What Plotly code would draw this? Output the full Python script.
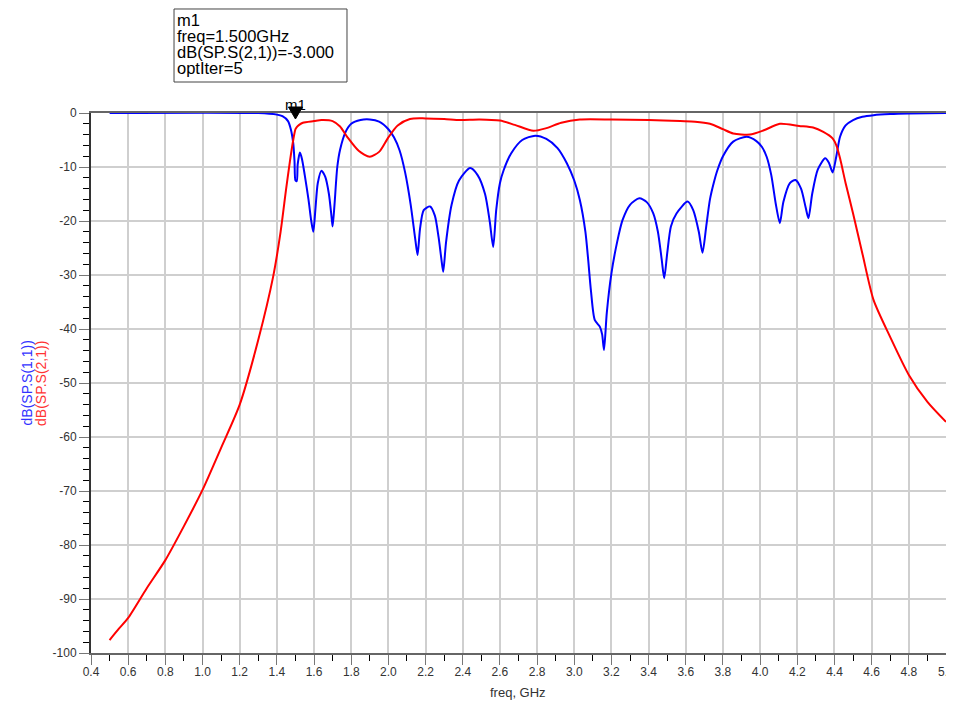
import plotly.graph_objects as go

# S11 (blue)
s11_freq = [0.5, 1.3, 1.4, 1.43, 1.46, 1.475, 1.488, 1.495, 1.5, 1.507, 1.512, 1.524, 1.535, 1.55,
            1.57, 1.585, 1.596, 1.607, 1.62, 1.64, 1.66, 1.68, 1.695, 1.70, 1.71, 1.725, 1.74,
            1.77, 1.80, 1.85, 1.90, 1.95, 2.0, 2.03, 2.06, 2.09, 2.12, 2.145, 2.157, 2.17, 2.19,
            2.224, 2.25, 2.27, 2.285, 2.295, 2.31, 2.34, 2.38, 2.44, 2.48, 2.52, 2.545, 2.564,
            2.58, 2.60, 2.62, 2.66, 2.72, 2.79, 2.85, 2.91, 2.96, 3.0, 3.03, 3.06, 3.075, 3.09,
            3.11, 3.138, 3.15, 3.16, 3.175, 3.2, 3.23, 3.26, 3.30, 3.35, 3.39, 3.425, 3.45, 3.47,
            3.484, 3.50, 3.52, 3.55, 3.61, 3.64, 3.67, 3.69, 3.71, 3.73, 3.75, 3.77, 3.80, 3.855,
            3.927, 3.98, 4.01, 4.035, 4.06, 4.085, 4.106, 4.125, 4.16, 4.19, 4.22, 4.245, 4.26,
            4.28, 4.31, 4.35, 4.37, 4.39, 4.41, 4.43, 4.46, 4.5, 4.55, 4.61, 4.7, 4.8, 5.0]
s11_db = [-0.0, -0.02, -0.3, -0.6, -1.5, -3, -5.6, -9, -12.5, -12.6, -9.5, -7.3, -8.5, -11.5,
          -16, -20, -22, -18, -13, -10.7, -11.8, -15, -19.5, -21, -17, -10, -6.8,
          -3.5, -2, -1.3, -1.2, -1.6, -3, -4.5, -6.9, -11, -17, -23.5, -26.3, -21.5, -18,
          -17.3, -19, -23, -27, -29.4, -24, -17, -12.5, -10.2, -11.5, -15, -20, -24.8,
          -18, -13, -10.6, -7.5, -5, -4.2, -4.8, -6.5, -9.3, -12.5, -16.1, -22, -27.2, -33,
          -38.3, -39.6, -41, -43.9, -37, -29.7, -24, -19.8, -17, -15.8, -16.5, -18.6, -22, -27,
          -30.6, -26, -21, -18.6, -16.4, -18, -22, -25.9, -21, -16, -13, -10.6, -8, -5.3,
          -4.4, -5.2, -6.3, -8.1, -11.5, -17, -20.4, -16.5, -13, -12.4, -14, -17.5, -19.5,
          -15, -10.5, -8.4, -9.2, -11, -8, -4.4, -2.3, -1.3, -0.7, -0.4, -0.2, -0.1, -0.02]

# S21 (red)
s21_freq = [0.5, 0.55, 0.6, 0.7, 0.8, 0.9, 1.0, 1.1, 1.2, 1.3, 1.38, 1.42, 1.45, 1.47, 1.488,
            1.5, 1.507, 1.52, 1.54, 1.6, 1.64, 1.7, 1.74, 1.78, 1.84, 1.90, 1.95, 2.0, 2.05,
            2.116, 2.2, 2.3, 2.385, 2.49, 2.6, 2.68, 2.78, 2.85, 2.93, 3.03, 3.2, 3.4, 3.57,
            3.65, 3.73, 3.80, 3.855, 3.945, 4.02, 4.106, 4.21, 4.285, 4.34, 4.39, 4.41, 4.43,
            4.46, 4.5, 4.55, 4.61, 4.7, 4.8, 4.9, 5.0]
s21_db = [-97.6, -95.5, -93.5, -88, -82.8, -76.5, -69.8, -62, -54, -42, -30.3, -22, -14, -9, -5,
          -3, -2.6, -2.2, -1.8, -1.5, -1.3, -1.5, -2.5, -4.5, -7, -8.1, -7.2, -4.5, -2.3,
          -1.1, -1.0, -1.1, -1.3, -1.2, -1.4, -2.2, -3.3, -2.8, -1.8, -1.2, -1.2, -1.3, -1.5,
          -1.6, -2.0, -3.0, -3.8, -4.0, -3.2, -2.0, -2.4, -2.7, -3.5, -4.7, -6, -8.4,
          -13, -18.6, -26, -34.6, -41.5, -48.5, -53.5, -57.2]

x_ticks = [round(0.4 + 0.2 * i, 1) for i in range(24)]
x_labels = ["%.1f" % v for v in x_ticks]
y_ticks = list(range(-100, 1, 10))
y_labels = [str(v) for v in y_ticks]

marker_freq = 1.5
marker_lines = ["m1", "freq=1.500GHz", "dB(SP.S(2,1))=-3.000", "optIter=5"]

fig = go.Figure()
fig.add_trace(go.Scatter(x=s11_freq, y=s11_db, mode="lines",
                         line=dict(color="#0000ff", width=2, shape="spline", smoothing=0.7),
                         name="dB(SP.S(1,1))"))
fig.add_trace(go.Scatter(x=s21_freq, y=s21_db, mode="lines",
                         line=dict(color="#ff0000", width=2, shape="spline", smoothing=0.7),
                         name="dB(SP.S(2,1))"))

# marker triangle at the top edge, above 1.5 GHz
fig.add_shape(type="path", xref="x", yref="paper", xsizemode="pixel", ysizemode="pixel",
              xanchor=marker_freq, yanchor=1.0,
              path="M-7,6 L7,6 L0,-6 Z", fillcolor="black", line=dict(color="black", width=1))
fig.add_annotation(x=marker_freq, xref="x", yref="paper", y=1.0, yshift=9, text="m1",
                   showarrow=False, yanchor="middle", font=dict(size=15, color="black"))

# marker readout box
fig.add_shape(type="rect", xref="paper", yref="paper", x0=0.0971, x1=0.2994, y0=1.0574, y1=1.1926,
              line=dict(color="#444", width=1), fillcolor="white")
for n, line_text in enumerate(marker_lines):
    fig.add_annotation(xref="paper", yref="paper", x=0.0985, y=1.1722 - 0.0299 * n,
                       xanchor="left", yanchor="middle", text=line_text, showarrow=False,
                       font=dict(size=16.5, color="black"))

# y axis titles (two colours)
fig.add_annotation(xref="paper", yref="paper", x=-0.086, y=0.5, textangle=-90,
                   text="dB(SP.S(1,1))", showarrow=False, font=dict(size=14, color="#3333ff"))
fig.add_annotation(xref="paper", yref="paper", x=-0.0702, y=0.5, textangle=-90,
                   text="dB(SP.S(2,1))", showarrow=False, font=dict(size=14, color="#ff3333"))
fig.add_annotation(xref="paper", yref="paper", x=0.4994, y=-0.074, text="freq, GHz",
                   showarrow=False, yanchor="middle", font=dict(size=13, color="#333"))

# last x tick label sits on the page edge and plotly drops it, so draw it here
fig.add_annotation(x=x_ticks[-1], xref="x", yref="paper", y=0, yshift=-19, yanchor="middle",
                   text=x_labels[-1], showarrow=False, font=dict(size=12, color="#333"))

fig.update_xaxes(range=[0.4, 5.0], tickvals=x_ticks, ticktext=x_labels, automargin=False,
                 showgrid=True, gridcolor="#cfcfcf", gridwidth=1.5,
                 ticks="outside", ticklen=10, tickcolor="#777", ticklabelstandoff=-3,
                 minor=dict(dtick=0.1, ticks="outside", ticklen=6, tickcolor="black", showgrid=False),
                 showline=True, linecolor="#666", linewidth=2, mirror=True,
                 zeroline=False, layer="below traces",
                 tickfont=dict(size=12, color="#333"))
fig.update_yaxes(range=[-100, 0], tickvals=y_ticks, ticktext=y_labels, automargin=False,
                 showgrid=True, gridcolor="#cfcfcf", gridwidth=1.5,
                 ticks="outside", ticklen=10, tickcolor="#777",
                 minor=dict(dtick=2, ticks="outside", ticklen=6, tickcolor="black", showgrid=False),
                 showline=True, linecolor="#333", linewidth=2, mirror=True,
                 zeroline=False, layer="below traces",
                 tickfont=dict(size=12, color="#333"))

# page body has an 8px margin, so the figure is 8px smaller each way
fig.update_layout(width=946, height=698, margin=dict(l=83, r=8, t=105, b=53),
                  plot_bgcolor="white", paper_bgcolor="white", showlegend=False,
                  font=dict(family="Arial, Liberation Sans, sans-serif"))

fig.write_html("out.html")
